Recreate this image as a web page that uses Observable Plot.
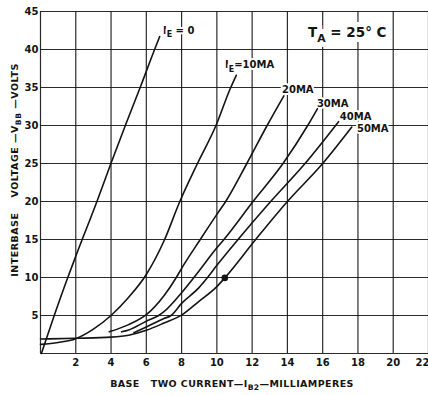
<!DOCTYPE html>
<html>
<head>
<meta charset="utf-8">
<script src="https://cdn.jsdelivr.net/npm/d3@7"></script>
<script src="https://cdn.jsdelivr.net/npm/@observablehq/plot@0.6"></script>
<style>
  body { margin: 0; background: #fff; }
  svg { display: block; }
</style>
</head>
<body>
<div id="chart"></div>
<script>
// Axis ticks and grid positions
const xGrid = [0, 2, 4, 6, 8, 10, 12, 14, 16, 18, 20, 22];
const yGrid = [0, 5, 10, 15, 20, 25, 30, 35, 40, 45];
const xTicks = [2, 4, 6, 8, 10, 12, 14, 16, 18, 20];
const xTickLast = [22];
const yTicks = [5, 10, 15, 20, 25, 30, 35, 40, 45];

// Interbase voltage V_BB (volts) vs base-two current I_B2 (mA), one curve per emitter current
const ib2_0mA  = [0.05, 0.75, 1.5, 2.0, 3.2, 3.96, 4.81, 5.7, 6.47, 6.76];
const vbb_0mA  = [0, 4.8, 9.7, 12.8, 20, 24.8, 30, 35.3, 40, 41.7];

const ib2_10mA = [0, 1, 2, 3, 4, 5, 6, 7, 7.9, 8.9, 9.95, 10.75, 11.1];
const vbb_10mA = [1.2, 1.45, 1.95, 3.2, 5, 7.4, 10.4, 14.8, 20, 25, 30, 34.8, 36.6];

const ib2_20mA = [3.9, 5, 6, 7, 7.7, 8, 9.06, 10, 10.5, 11.7, 12.85, 13.8];
const vbb_20mA = [2.85, 3.8, 5.1, 7.6, 10, 11.2, 15, 18.3, 20, 25, 30, 33.9];

const ib2_30mA = [4.6, 5, 6, 6.7, 7, 8, 8.7, 9, 10, 10.4, 12.05, 13.75, 15.15, 15.7];
const vbb_30mA = [2.85, 3.1, 4.25, 5, 5.5, 8.0, 10, 10.9, 13.9, 15, 20, 25, 30, 32.2];

const ib2_40mA = [5.3, 6, 7, 7.4, 8, 9, 9.4, 10, 11.2, 13.05, 15, 16.9];
const vbb_40mA = [2.75, 3.5, 4.6, 5, 6.6, 8.7, 9.8, 11.6, 15, 20, 25, 30.5];

const ib2_50mA = [0, 2, 4, 5, 6, 7, 8, 9, 10, 10.45, 12.2, 14, 16, 17.65];
const vbb_50mA = [1.9, 2.0, 2.15, 2.4, 3.05, 4.0, 5.05, 6.9, 8.8, 9.95, 15, 20, 25, 29.8];

// Marked operating point on the 50 mA curve
const pointIb2 = [10.45];
const pointVbb = [9.95];

const curves = [
  { ie: "0", ib2: ib2_0mA, vbb: vbb_0mA },
  { ie: "10", ib2: ib2_10mA, vbb: vbb_10mA },
  { ie: "20", ib2: ib2_20mA, vbb: vbb_20mA },
  { ie: "30", ib2: ib2_30mA, vbb: vbb_30mA },
  { ie: "40", ib2: ib2_40mA, vbb: vbb_40mA },
  { ie: "50", ib2: ib2_50mA, vbb: vbb_50mA }
];
const rows = curves.flatMap(c => c.ib2.map((x, i) => ({ ie: c.ie, ib2: x, vbb: c.vbb[i] })));
const points = pointIb2.map((x, i) => ({ ib2: x, vbb: pointVbb[i] }));

// Curve annotations, anchored in data units
const labelIb2  = [6.97, 10.49, 13.72, 15.7, 17.0, 17.97];
const labelVbb  = [42.0, 37.5, 34.2, 32.4, 30.6, 29.1];
const labelText = [
  [["I"], ["E", true], [" = 0"]],
  [["I"], ["E", true], ["=10MA"]],
  [["20MA"]],
  [["30MA"]],
  [["40MA"]],
  [["50MA"]]
];
const tempIb2 = 15.2, tempVbb = 41.6;

const ink = "#141414";
const font = "DejaVu Sans";

const plot = Plot.plot({
  width: 428,
  height: 395,
  marginLeft: 40,
  marginRight: 0,
  marginTop: 11,
  marginBottom: 42,
  x: { domain: [0, 22] },
  y: { domain: [0, 45] },
  style: { fontFamily: font, fontWeight: "bold", background: "#fff", color: ink },
  marks: [
    Plot.gridX(xGrid, { stroke: ink, strokeOpacity: 0.9, strokeWidth: 1.2 }),
    Plot.gridY(yGrid, { stroke: ink, strokeOpacity: 0.9, strokeWidth: 1.2 }),
    Plot.axisX(xTicks, { tickSize: 0, tickPadding: 5, fontSize: 10, label: null }),
    Plot.axisX(xTickLast, { tickSize: 0, tickPadding: 5, fontSize: 10, label: null, textAnchor: "end", dx: 1 }),
    Plot.axisY(yTicks, { tickSize: 0, tickPadding: 2, fontSize: 10, label: null }),
    Plot.line(rows, { x: "ib2", y: "vbb", z: "ie", curve: "monotone-x", stroke: ink, strokeWidth: 1.6 }),
    Plot.dot(points, { x: "ib2", y: "vbb", r: 3.3, fill: ink, stroke: "none" })
  ]
});

document.getElementById("chart").append(plot);

const svg = d3.select(plot);
const sx = plot.scale("x"), sy = plot.scale("y");

// Text with subscript parts, with a white halo that clears the grid behind it
function addText(g, x, y, parts, size, opts = {}) {
  const t = g.append("text")
    .attr("x", x).attr("y", y)
    .attr("font-family", font)
    .attr("font-weight", opts.weight || "bold")
    .attr("font-size", size)
    .attr("fill", ink)
    .attr("text-anchor", opts.anchor || "start")
    .style("white-space", "pre");
  if (opts.spacing) t.attr("letter-spacing", opts.spacing);
  if (opts.halo) {
    t.attr("stroke", "#fff").attr("stroke-width", opts.halo)
     .attr("paint-order", "stroke").attr("stroke-linejoin", "round");
  }
  if (opts.transform) t.attr("transform", opts.transform);
  let sub = false;
  parts.forEach(([s, isSub]) => {
    const span = t.append("tspan").text(s);
    if (isSub && !sub) { span.attr("dy", size * 0.35).attr("font-size", size * 0.8); sub = true; }
    else if (!isSub && sub) { span.attr("dy", -size * 0.35); sub = false; }
  });
  return t;
}

const labels = svg.insert("g", 'g[aria-label="line"]');
labelText.forEach((parts, i) => {
  addText(labels, sx.apply(labelIb2[i]), sy.apply(labelVbb[i]), parts, 10, { halo: 4 });
});
addText(labels, sx.apply(tempIb2), sy.apply(tempVbb), [["T"], ["A", true], [" = 25° C"]], 13.5, { halo: 10, weight: 600 });

// Axis titles
addText(svg, 232, 387, [["BASE   TWO CURRENT—I"], ["B2", true], ["—MILLIAMPERES"]], 9.5, { anchor: "middle", spacing: 0.4 });
addText(svg, 0, 0, [["INTERBASE    VOLTAGE —V"], ["BB", true], [" —VOLTS"]], 9.5,
  { anchor: "middle", spacing: 0.5, transform: "translate(18,170) rotate(-90)" });
</script>
</body>
</html>
